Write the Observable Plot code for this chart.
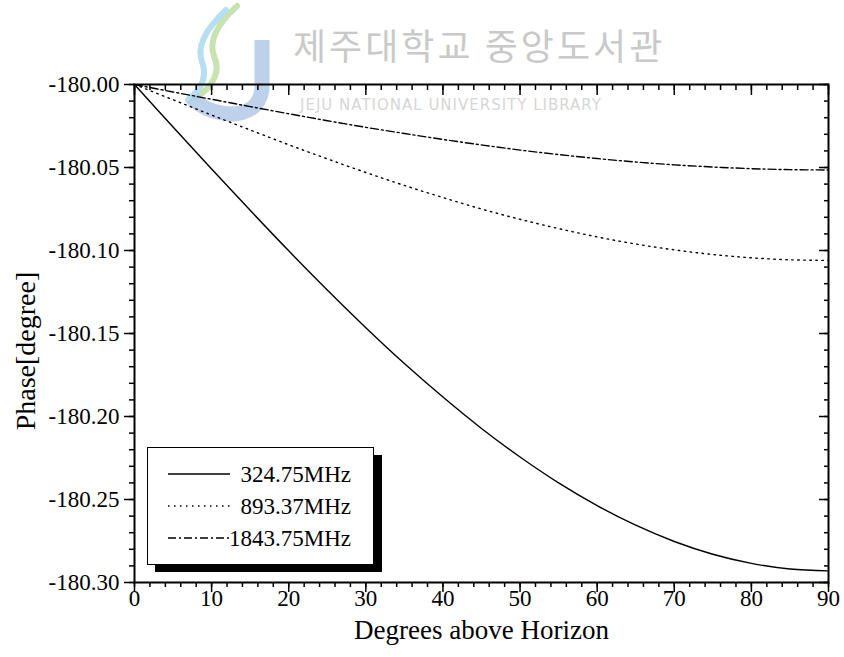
<!DOCTYPE html>
<html>
<head>
<meta charset="utf-8">
<script src="https://cdn.jsdelivr.net/npm/d3@7"></script>
<script src="https://cdn.jsdelivr.net/npm/@observablehq/plot@0.6"></script>
<style>
  html, body { margin: 0; padding: 0; background: white; }
  #wrap { position: relative; width: 844px; height: 657px; overflow: hidden; }
  #wm, #chart, #legend { position: absolute; left: 0; top: 0; }
</style>
</head>
<body>
<div id="wrap">
  <div id="wm"></div>
  <div id="chart"></div>
  <div id="legend"></div>
</div>
<script>
// ---- data ----
const angles = [0, 5, 10, 15, 20, 25, 30, 35, 40, 45, 50, 55, 60, 65, 70, 75, 80, 85, 90];
const phase324 = [-180.000, -180.0256, -180.0509, -180.0758, -180.1002, -180.1238, -180.1465, -180.1681, -180.1883, -180.2072, -180.2244, -180.2400, -180.2537, -180.2655, -180.2753, -180.2830, -180.2885, -180.2919, -180.2930];
const phase893 = [-180.000, -180.0092, -180.0184, -180.0274, -180.0363, -180.0448, -180.053, -180.0608, -180.0681, -180.075, -180.0812, -180.0868, -180.0918, -180.0961, -180.0996, -180.1024, -180.1044, -180.1056, -180.106];
const phase1843 = [-180.000, -180.0045, -180.0089, -180.0133, -180.0176, -180.0218, -180.0258, -180.0295, -180.0331, -180.0364, -180.0395, -180.0422, -180.0446, -180.0467, -180.0484, -180.0497, -180.0507, -180.0513, -180.0515];
const seriesNames = ["324.75MHz", "893.37MHz", "1843.75MHz"];
const xTicks = [0, 10, 20, 30, 40, 50, 60, 70, 80, 90];
const yTicks = [-180.30, -180.25, -180.20, -180.15, -180.10, -180.05, -180.00];
const xLabel = "Degrees above Horizon";
const yLabel = "Phase[degree]";
const wmKorean = "제주대학교 중앙도서관";
const wmEnglish = "JEJU NATIONAL UNIVERSITY LIBRARY";

const xMinor = d3.range(0, 91, 2);
const yMinor = d3.range(0, 31).map(i => -180.30 + i * 0.01);

const dashes = ["none", "1.5,4.5", "8,3,2,3"];
const seriesVals = [phase324, phase893, phase1843];
const rows = [];
seriesVals.forEach((vals, s) => angles.forEach((a, i) => rows.push({series: seriesNames[s], x: a, y: vals[i]})));

const FONT = "Liberation Serif, Times New Roman, serif";
const noLabel = () => "";

const chart = Plot.plot({
  width: 844,
  height: 657,
  marginLeft: 134,
  marginRight: 16,
  marginTop: 84,
  marginBottom: 75,
  style: {fontFamily: FONT, fontSize: "23px", background: "transparent", color: "black", overflow: "visible"},
  x: {domain: [0, 90]},
  y: {domain: [-180.30, -180.00]},
  marks: [
    ...seriesNames.map((name, s) =>
      Plot.line(rows.filter(d => d.series === name), {
        x: "x", y: "y", curve: "catmull-rom",
        stroke: "black", strokeWidth: 1.4,
        strokeDasharray: dashes[s] === "none" ? null : dashes[s]
      })
    ),
    // bottom axis: outward ticks
    Plot.axisX({anchor: "bottom", ticks: xMinor, tickSize: 5, tickFormat: noLabel, label: null, strokeWidth: 1.5}),
    Plot.axisX({anchor: "bottom", ticks: xTicks, tickSize: 10, tickPadding: -3, tickFormat: d => String(d), label: null, fontSize: 23, strokeWidth: 1.5}),
    // top axis: inward ticks
    Plot.axisX({anchor: "top", ticks: xMinor, tickSize: -5, tickFormat: noLabel, label: null, strokeWidth: 1.5}),
    Plot.axisX({anchor: "top", ticks: xTicks, tickSize: -10, tickFormat: noLabel, label: null, strokeWidth: 1.5}),
    // left axis: outward ticks
    Plot.axisY({anchor: "left", ticks: yMinor, tickSize: 5, tickFormat: noLabel, label: null, strokeWidth: 1.5}),
    Plot.axisY({anchor: "left", ticks: yTicks, tickSize: 10, tickPadding: 5, tickFormat: d => d.toFixed(2), label: null, fontSize: 23, strokeWidth: 1.5}),
    // right axis: inward ticks
    Plot.axisY({anchor: "right", ticks: yMinor, tickSize: -5, tickFormat: noLabel, label: null, strokeWidth: 1.5}),
    Plot.axisY({anchor: "right", ticks: yTicks, tickSize: -10, tickFormat: noLabel, label: null, strokeWidth: 1.5}),
    Plot.frame({stroke: "black", strokeWidth: 2}),
    Plot.text([xLabel], {frameAnchor: "bottom", dy: 56, fontSize: 27, fill: "black", text: d => d})
  ]
});
document.getElementById("chart").appendChild(chart);

// ---- watermark (background decoration) ----
const wm = document.getElementById("wm");
wm.innerHTML = `
<svg width="844" height="657" xmlns="http://www.w3.org/2000/svg">
  <path d="M237,6 Q206,34 214,56 Q224,78 196,98" fill="none" stroke="#c6e3b0" stroke-width="6" stroke-linecap="round"/>
  <path d="M226,10 Q194,40 202,62 Q210,82 188,100" fill="none" stroke="#b6dff2" stroke-width="6" stroke-linecap="round"/>
  <path d="M262,40 L262,90 Q258,114 230,114 Q205,112 192,98" fill="none" stroke="#b3c9e8" stroke-width="15" stroke-linecap="butt" opacity="0.85"/>
  <text x="293" y="60" font-family="Noto Sans CJK KR" font-size="36" letter-spacing="3" fill="#c9c9c9">${wmKorean}</text>
  <text x="300" y="110" font-family="DejaVu Sans, Noto Sans" font-size="15" letter-spacing="1" fill="#d6d6d6">${wmEnglish}</text>
</svg>`;

// ---- legend and y title ----
const lg = document.getElementById("legend");
const rowY = [474, 506, 538];
let legendSvg = `<svg width="844" height="657" xmlns="http://www.w3.org/2000/svg">
  <text transform="translate(35,351) rotate(-90)" text-anchor="middle" font-family="${FONT}" font-size="28" fill="black">${yLabel}</text>
  <rect x="155" y="455" width="227" height="117" fill="black"/>
  <rect x="147.5" y="447.5" width="226" height="117" fill="white" stroke="black" stroke-width="1"/>`;
seriesNames.forEach((name, i) => {
  legendSvg += `<line x1="168" x2="230" y1="${rowY[i]}" y2="${rowY[i]}" stroke="black" stroke-width="1.4" ${dashes[i] === "none" ? "" : `stroke-dasharray="${dashes[i]}"`}/>`;
  legendSvg += `<text x="351" y="${rowY[i] + 8}" text-anchor="end" font-family="${FONT}" font-size="23" fill="black">${name}</text>`;
});
legendSvg += `</svg>`;
lg.innerHTML = legendSvg;
</script>
</body>
</html>
